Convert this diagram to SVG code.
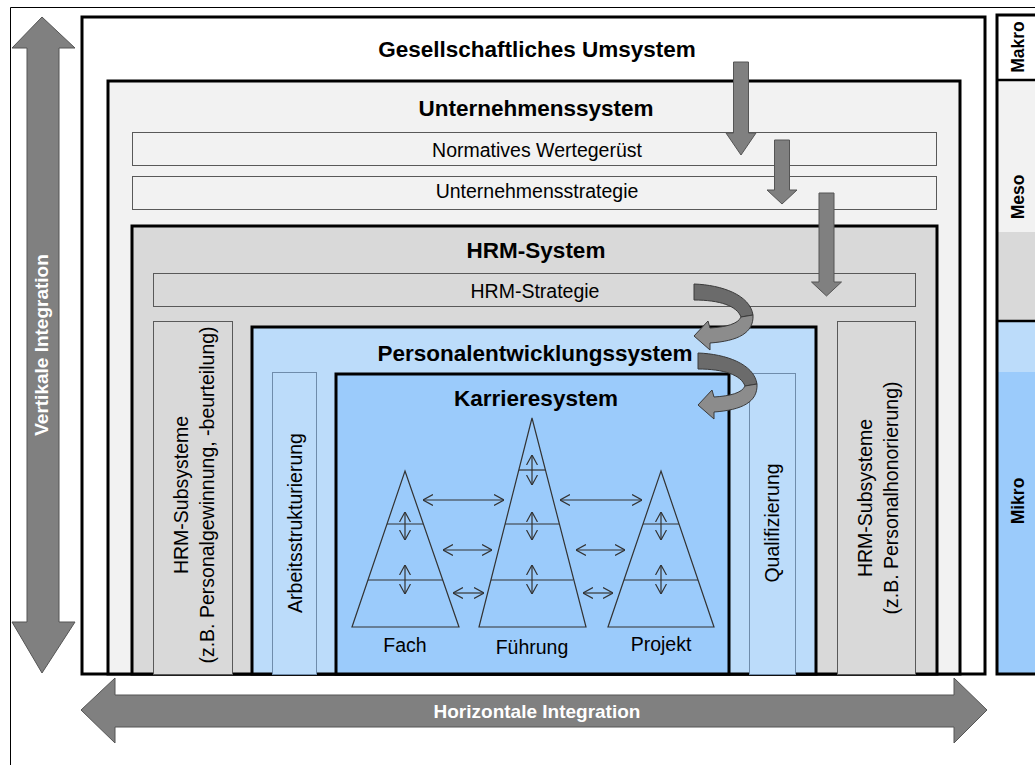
<svg xmlns="http://www.w3.org/2000/svg" width="1035" height="765" viewBox="0 0 1035 765">
<style>
.thick{stroke:#000;stroke-width:3}
.thin{stroke:#595959;stroke-width:1}
.thinb{stroke:#6f8cab;stroke-width:1}
.t{font-family:"Liberation Sans",Arial,sans-serif;font-size:19.5px;fill:#000;text-anchor:middle}
.b{font-family:"Liberation Sans",Arial,sans-serif;font-size:22.5px;font-weight:bold;fill:#000;text-anchor:middle}
.w{font-family:"Liberation Sans",Arial,sans-serif;font-size:19px;font-weight:bold;fill:#fff;text-anchor:middle}
.lv{font-family:"Liberation Sans",Arial,sans-serif;font-size:17.5px;font-weight:bold;fill:#000;text-anchor:middle}
.ga{fill:#808080;stroke:#555;stroke-width:1}
.pyr{fill:none;stroke:#333;stroke-width:1.2}
.da{fill:none;stroke:#333;stroke-width:1.2;marker-start:url(#ch);marker-end:url(#ch)}
</style>
<defs>
<marker id="ch" viewBox="0 0 10 12" refX="10" refY="6" markerWidth="10" markerHeight="12" markerUnits="userSpaceOnUse" orient="auto-start-reverse">
<path d="M0,0.5 L10,6 L0,11.5" fill="none" stroke="#333" stroke-width="1.2"/>
</marker>
<g id="curl">
<path d="M694,284 C722,285 750,295 753,315 L741,317 C737,306 720,300 694,300 Z" fill="#6b6b6b" stroke="#3a3a3a" stroke-width="1"/>
<path d="M753,315 C754,333 738,341 710,343 L710,350 L694,336 L708,321 L710,328 C726,327 738,324 741,317 Z" fill="#8c8c8c" stroke="#3a3a3a" stroke-width="1"/>
</g>
</defs>
<rect width="1035" height="765" fill="#fff"/>
<path d="M10.5,765 V7.5 H1035" fill="none" stroke="#000" stroke-width="1"/>

<g id="vertikale-integration">
<polygon class="ga" points="42,17 75,48 59,48 59,622 75,622 42,673 12,622 27,622 27,48 12,48"/>
<text class="w" transform="translate(48,345) rotate(-90)">Vertikale Integration</text>
</g>

<g id="gesellschaft">
<rect class="thick" x="82" y="17" width="903" height="657" fill="#fff"/>
<text class="b" x="537" y="57">Gesellschaftliches Umsystem</text>
</g>

<g id="unternehmen">
<rect class="thick" x="108" y="81" width="852" height="593" fill="#f2f2f2"/>
<text class="b" x="536" y="116">Unternehmenssystem</text>
</g>
<g id="wertegeruest">
<rect class="thin" x="132.5" y="132.5" width="804" height="33" fill="#f2f2f2"/>
<text class="t" x="537" y="157">Normatives Wertegerüst</text>
</g>
<g id="unternehmensstrategie">
<rect class="thin" x="132.5" y="176.5" width="804" height="33" fill="#f2f2f2"/>
<text class="t" x="537" y="198">Unternehmensstrategie</text>
</g>

<g id="hrm">
<rect class="thick" x="132" y="226" width="805" height="448" fill="#d9d9d9"/>
<text class="b" x="536" y="258">HRM-System</text>
</g>
<g id="hrm-strategie">
<rect class="thin" x="153.5" y="273.5" width="762" height="33" fill="#d9d9d9"/>
<text class="t" x="535" y="298">HRM-Strategie</text>
</g>
<g id="hrm-sub-links">
<rect class="thin" x="153.5" y="321.5" width="79" height="353" fill="#d9d9d9"/>
<text class="t" transform="translate(188,495) rotate(-90)">HRM-Subsysteme</text>
<text class="t" transform="translate(214,495) rotate(-90)">(z.B. Personalgewinnung, -beurteilung)</text>
</g>
<g id="hrm-sub-rechts">
<rect class="thin" x="837.5" y="321.5" width="78" height="353" fill="#d9d9d9"/>
<text class="t" transform="translate(872,498) rotate(-90)">HRM-Subsysteme</text>
<text class="t" transform="translate(898,498) rotate(-90)">(z.B. Personalhonorierung)</text>
</g>

<g id="personalentwicklung">
<rect class="thick" x="252" y="327" width="564" height="347" fill="#bcdcfa"/>
<text class="b" x="535" y="361">Personalentwicklungssystem</text>
</g>
<g id="arbeitsstrukturierung">
<rect class="thinb" x="272.5" y="372.5" width="44" height="302" fill="#bcdcfa"/>
<text class="t" transform="translate(302,523) rotate(-90)">Arbeitsstrukturierung</text>
</g>
<g id="qualifizierung">
<rect class="thinb" x="749.5" y="373.5" width="46" height="301" fill="#bcdcfa"/>
<text class="t" transform="translate(779,523) rotate(-90)">Qualifizierung</text>
</g>

<g id="karriere">
<rect class="thick" x="336" y="374" width="393" height="300" fill="#9bcbfb"/>
<text class="b" x="536" y="406">Karrieresystem</text>
</g>

<g id="pyramide-fach">
<polygon class="pyr" points="405,471 459,627 352,627"/>
<line class="pyr" x1="387" y1="524" x2="423" y2="524" stroke="#56708a"/>
<line class="pyr" x1="368" y1="580" x2="443" y2="580"/>
<text class="t" x="405" y="652">Fach</text>
</g>
<g id="pyramide-fuehrung">
<polygon class="pyr" points="532,418 586,627 479,627"/>
<line class="pyr" x1="519" y1="470" x2="545" y2="470"/>
<line class="pyr" x1="505" y1="524" x2="559" y2="524"/>
<line class="pyr" x1="491" y1="580" x2="573" y2="580"/>
<text class="t" x="532" y="654">Führung</text>
</g>
<g id="pyramide-projekt">
<polygon class="pyr" points="661,471 714,627 608,627"/>
<line class="pyr" x1="643" y1="524" x2="679" y2="524"/>
<line class="pyr" x1="624" y1="580" x2="698" y2="580"/>
<text class="t" x="661" y="651">Projekt</text>
</g>

<g id="ebenen">
<rect x="997" y="15" width="40" height="65" fill="#fff"/>
<rect x="997" y="80" width="40" height="152" fill="#f2f2f2"/>
<rect x="997" y="232" width="40" height="89" fill="#d9d9d9"/>
<rect x="997" y="321" width="40" height="51" fill="#bcdcfa"/>
<rect x="997" y="372" width="40" height="302" fill="#9bcbfb"/>
<rect class="thick" x="997" y="15" width="40" height="659" fill="none"/>
<line x1="997" y1="80" x2="1035" y2="80" stroke="#000" stroke-width="2.5"/>
<line x1="997" y1="321" x2="1035" y2="321" stroke="#000" stroke-width="2.5"/>
<text class="lv" transform="translate(1024,47) rotate(-90)">Makro</text>
<text class="lv" transform="translate(1024,197) rotate(-90)">Meso</text>
<text class="lv" transform="translate(1024,501) rotate(-90)">Mikro</text>
</g>

<g id="connectors">
<polygon class="ga" points="733.5,62 748.5,62 748.5,133 756,133 741,155 726,133 733.5,133"/>
<polygon class="ga" points="774.5,140 789.5,140 789.5,190 797,190 782,204 767,190 774.5,190"/>
<polygon class="ga" points="819,193 834,193 834,282 841.5,282 826.5,296 811.5,282 819,282"/>
<use href="#curl"/>
<use href="#curl" transform="translate(4,69)"/>
<line class="da" x1="405" y1="512" x2="405" y2="540"/>
<line class="da" x1="405" y1="565" x2="405" y2="594"/>
<line class="da" x1="532" y1="455" x2="532" y2="485"/>
<line class="da" x1="532" y1="512" x2="532" y2="540"/>
<line class="da" x1="532" y1="565" x2="532" y2="594"/>
<line class="da" x1="661" y1="512" x2="661" y2="540"/>
<line class="da" x1="661" y1="565" x2="661" y2="594"/>
<line class="da" x1="423" y1="500" x2="504" y2="500"/>
<line class="da" x1="560" y1="500" x2="642" y2="500"/>
<line class="da" x1="443" y1="550" x2="492" y2="550"/>
<line class="da" x1="576" y1="550" x2="625" y2="550"/>
<line class="da" x1="453" y1="593" x2="484" y2="593"/>
<line class="da" x1="583" y1="593" x2="613" y2="593"/>
</g>

<g id="horizontale-integration">
<polygon class="ga" points="81,710 115,678 115,695 954,695 954,678 987,710 954,743 954,727 115,727 115,743"/>
<text class="w" x="537" y="718">Horizontale Integration</text>
</g>
</svg>
